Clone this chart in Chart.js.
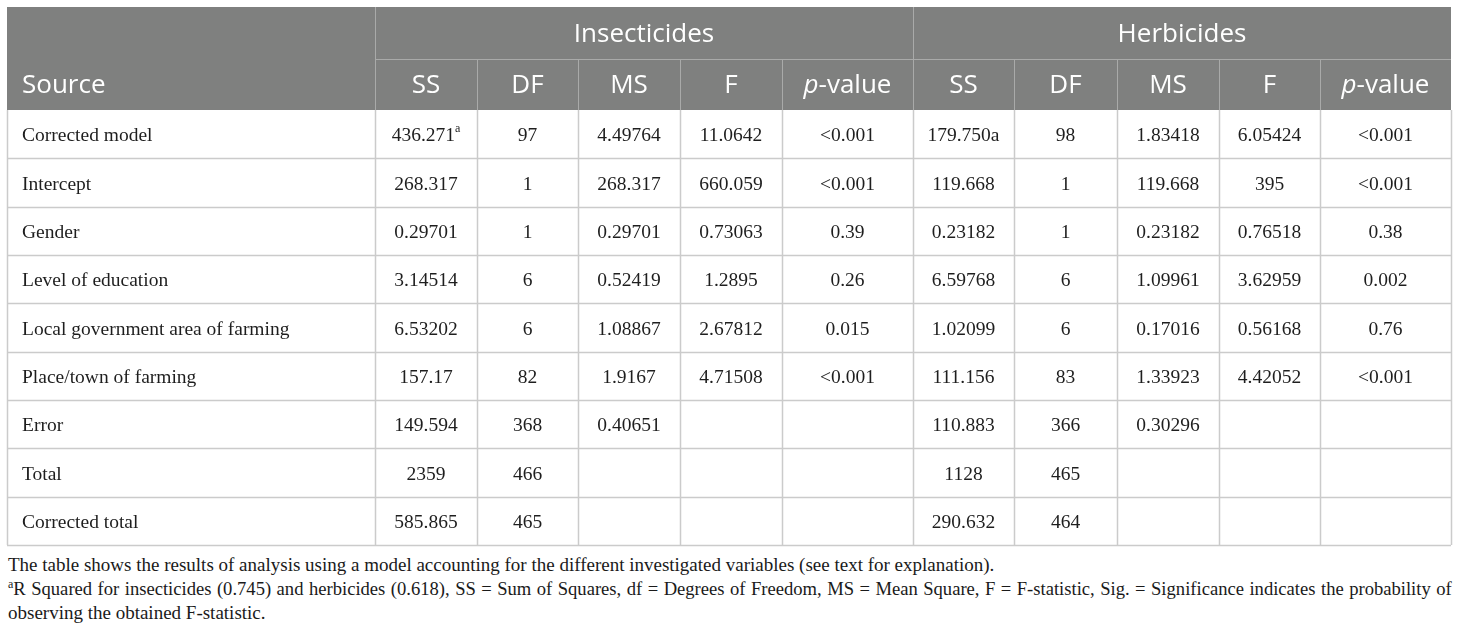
<!DOCTYPE html>
<html>
<head>
<meta charset="utf-8">
<script src="https://cdn.jsdelivr.net/npm/chart.js@4.4.1/dist/chart.umd.min.js"></script>
<style>
  html, body { margin: 0; padding: 0; background: #ffffff; }
  #wrap { position: relative; width: 1460px; height: 631px; overflow: hidden; }
  #c { position: absolute; left: 0; top: 0; }
  #notes { position: absolute; left: 8px; top: 553px; width: 1444px;
           font-family: "Liberation Serif", "DejaVu Serif", serif; font-size: 19px;
           line-height: 24px; color: #1a1a1a; }
  #notes div { white-space: nowrap; }
  #notes .just { display: flex; justify-content: space-between; font-size: 18.6px; }
  sup { font-size: 12px; vertical-align: 7px; line-height: 0; }
</style>
</head>
<body>
<div id="wrap">
  <canvas id="c" width="1460" height="550"></canvas>
  <div id="notes">
    <div>The table shows the results of analysis using a model accounting for the different investigated variables (see text for explanation).</div>
    <div class="just" id="line2"></div>
    <div>observing the obtained F-statistic.</div>
  </div>
</div>
<script>
// ---------- data ----------
const groups = ['Insecticides', 'Herbicides'];
const columnHeads = ['SS', 'DF', 'MS', 'F', '*p*-value'];
const sourceHead = 'Source';
const sources = ['Corrected model', 'Intercept', 'Gender', 'Level of education',
  'Local government area of farming', 'Place/town of farming', 'Error', 'Total', 'Corrected total'];
const insSS = ['436.271^a', '268.317', '0.29701', '3.14514', '6.53202', '157.17', '149.594', '2359', '585.865'];
const insDF = ['97', '1', '1', '6', '6', '82', '368', '466', '465'];
const insMS = ['4.49764', '268.317', '0.29701', '0.52419', '1.08867', '1.9167', '0.40651', '', ''];
const insF  = ['11.0642', '660.059', '0.73063', '1.2895', '2.67812', '4.71508', '', '', ''];
const insP  = ['<0.001', '<0.001', '0.39', '0.26', '0.015', '<0.001', '', '', ''];
const herSS = ['179.750a', '119.668', '0.23182', '6.59768', '1.02099', '111.156', '110.883', '1128', '290.632'];
const herDF = ['98', '1', '1', '6', '6', '83', '366', '465', '464'];
const herMS = ['1.83418', '119.668', '0.23182', '1.09961', '0.17016', '1.33923', '0.30296', '', ''];
const herF  = ['6.05424', '395', '0.76518', '3.62959', '0.56168', '4.42052', '', '', ''];
const herP  = ['<0.001', '<0.001', '0.38', '0.002', '0.76', '<0.001', '', '', ''];
const footLine2 = 'R Squared for insecticides (0.745) and herbicides (0.618), SS = Sum of Squares, df = Degrees of Freedom, MS = Mean Square, F = F-statistic, Sig. = Significance indicates the probability of';

// footnote line 2, justified word by word
(function () {
  const el = document.getElementById('line2');
  footLine2.split(' ').forEach((w, i) => {
    const s = document.createElement('span');
    if (i === 0) { const sup = document.createElement('sup'); sup.textContent = 'a'; s.appendChild(sup); }
    s.appendChild(document.createTextNode(w));
    el.appendChild(s);
  });
})();

// ---------- layout / style ----------
const colWidths = [368, 102, 101, 102, 102, 131, 101, 103, 102, 101, 131];
const TABLE_TOP = 7, HEAD_SPLIT = 59;
const HEAD_BG = '#7f807f', HEAD_LINE = '#a9aaa9', GRID = '#cbcbcb', TEXT = '#1e1e1e';
const SANS = '"Open Sans", "Noto Sans", sans-serif';
const SERIF = '"Liberation Serif", "DejaVu Serif", serif';
const HEAD_SIZE = 26, BODY_SIZE = 19.5;

const columns = [insSS, insDF, insMS, insF, insP, herSS, herDF, herMS, herF, herP];

function drawRich(ctx, str, x, y, align, size, family, color) {
  // supports ^a (superscript) and *p* (italic)
  const parts = [];
  const re = /(\^[a-z])|(\*[^*]+\*)/g;
  let last = 0, m;
  while ((m = re.exec(str)) !== null) {
    if (m.index > last) parts.push({t: str.slice(last, m.index), k: 'n'});
    if (m[1]) parts.push({t: m[1].slice(1), k: 'sup'});
    else parts.push({t: m[2].slice(1, -1), k: 'it'});
    last = re.lastIndex;
  }
  if (last < str.length) parts.push({t: str.slice(last), k: 'n'});
  const fontFor = k => k === 'sup' ? `${Math.round(size * 0.6)}px ${family}`
                    : k === 'it' ? `italic ${size}px ${family}` : `${size}px ${family}`;
  let total = 0;
  parts.forEach(p => { ctx.font = fontFor(p.k); p.w = ctx.measureText(p.t).width; total += p.w; });
  let cx = align === 'center' ? x - total / 2 : x;
  ctx.fillStyle = color;
  ctx.textAlign = 'left';
  ctx.textBaseline = 'middle';
  parts.forEach(p => {
    ctx.font = fontFor(p.k);
    ctx.fillText(p.t, cx, p.k === 'sup' ? y - size * 0.35 : y);
    cx += p.w;
  });
}

const tablePlugin = {
  id: 'tablePlugin',
  afterDraw(chart) {
    const ctx = chart.ctx;
    const area = chart.chartArea;
    const yS = chart.scales.y;
    const totalW = colWidths.reduce((a, b) => a + b, 0);
    const k = (area.right - area.left) / totalW;
    const xEdges = [area.left];
    colWidths.forEach(w => xEdges.push(xEdges[xEdges.length - 1] + w * k));
    const band = yS.getPixelForValue(1) - yS.getPixelForValue(0);
    const rowTop = i => yS.getPixelForValue(i) - band / 2;
    const headBottom = area.top;
    const tableBottom = rowTop(sources.length);
    ctx.save();

    // header background
    ctx.fillStyle = HEAD_BG;
    ctx.fillRect(xEdges[0], TABLE_TOP, xEdges[11] - xEdges[0], headBottom - TABLE_TOP);
    // header lines
    ctx.strokeStyle = HEAD_LINE;
    ctx.lineWidth = 1;
    ctx.beginPath();
    ctx.moveTo(xEdges[1], HEAD_SPLIT + 0.5); ctx.lineTo(xEdges[11], HEAD_SPLIT + 0.5);
    [1, 6].forEach(i => { const x = Math.round(xEdges[i]) + 0.5; ctx.moveTo(x, TABLE_TOP); ctx.lineTo(x, headBottom); });
    for (let i = 2; i <= 10; i++) {
      if (i === 6) continue;
      const x = Math.round(xEdges[i]) + 0.5; ctx.moveTo(x, HEAD_SPLIT); ctx.lineTo(x, headBottom);
    }
    ctx.stroke();

    // header text
    const hY1 = (TABLE_TOP + HEAD_SPLIT) / 2 + 1.5;
    const hY2 = (HEAD_SPLIT + headBottom) / 2 + 1.5;
    drawRich(ctx, groups[0], (xEdges[1] + xEdges[6]) / 2, hY1, 'center', HEAD_SIZE, SANS, '#ffffff');
    drawRich(ctx, groups[1], (xEdges[6] + xEdges[11]) / 2, hY1, 'center', HEAD_SIZE, SANS, '#ffffff');
    drawRich(ctx, sourceHead, xEdges[0] + 15, hY2, 'left', HEAD_SIZE, SANS, '#ffffff');
    for (let c = 0; c < 10; c++) {
      drawRich(ctx, columnHeads[c % 5], (xEdges[c + 1] + xEdges[c + 2]) / 2, hY2, 'center', HEAD_SIZE, SANS, '#ffffff');
    }

    // body grid
    ctx.strokeStyle = GRID;
    ctx.lineWidth = 1.5;
    ctx.beginPath();
    for (let r = 1; r <= sources.length; r++) {
      const y = Math.round(rowTop(r)) + 0.5;
      ctx.moveTo(xEdges[0], y); ctx.lineTo(xEdges[11], y);
    }
    for (let i = 0; i <= 11; i++) {
      const x = Math.round(xEdges[i]) + 0.5;
      ctx.moveTo(x, headBottom); ctx.lineTo(x, tableBottom);
    }
    ctx.stroke();

    // body text
    sources.forEach((s, r) => {
      const y = yS.getPixelForValue(r) + 2;
      drawRich(ctx, s, xEdges[0] + 15, y, 'left', BODY_SIZE, SERIF, TEXT);
      columns.forEach((col, c) => {
        if (col[r]) drawRich(ctx, col[r], (xEdges[c + 1] + xEdges[c + 2]) / 2, y, 'center', BODY_SIZE, SERIF, TEXT);
      });
    });
    ctx.restore();
  }
};

new Chart(document.getElementById('c'), {
  type: 'bar',
  data: { labels: sources, datasets: [] },
  options: {
    responsive: false,
    animation: false,
    indexAxis: 'y',
    layout: { padding: { left: 7, right: 9, top: 110, bottom: 550 - 545 } },
    plugins: { legend: { display: false }, tooltip: { enabled: false } },
    scales: {
      x: { type: 'linear', display: false, min: 0, max: 1 },
      y: { type: 'category', labels: sources, display: false, offset: true, grid: { display: false } }
    }
  },
  plugins: [tablePlugin]
});
</script>
</body>
</html>
